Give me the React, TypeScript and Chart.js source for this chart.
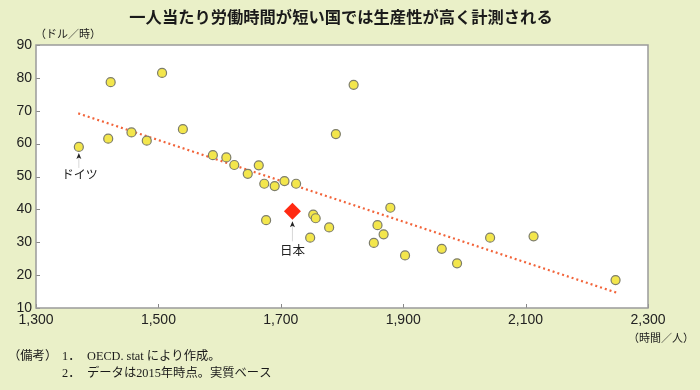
import React, { useEffect, useRef } from "react";
import { Chart, registerables } from "chart.js";

Chart.register(...registerables);

const titleText = "一人当たり労働時間が短い国では生産性が高く計測される";
const yUnit = "（ドル／時）";
const xUnit = "（時間／人）";
const notes = ["（備考）", "1．", "OECD. stat により作成。", "2．", "データは2015年時点。実質ベース"];

const hours = [1370, 1422, 1506, 1418, 1456, 1481, 1540, 1589, 1611, 1624, 1646, 1664, 1673, 1690, 1706, 1725, 1676, 1753, 1757, 1779, 1748, 1819, 1790, 1858, 1852, 1879, 1868, 1903, 1963, 1988, 2042, 2113, 2247];
const productivity = [59.0, 78.7, 81.5, 61.5, 63.4, 60.9, 64.4, 56.5, 55.8, 53.5, 50.8, 53.4, 47.8, 47.1, 48.6, 47.8, 36.7, 38.4, 37.3, 34.5, 31.4, 77.9, 62.9, 35.2, 29.8, 40.5, 32.4, 26.0, 28.0, 23.6, 31.4, 31.8, 18.5];
const japanHours = 1719;
const japanProductivity = 39.4;
const germanyIndex = 0;
const trendX = [1369, 2248];
const trendY = [69.2, 14.7];
const xTicks = [1300, 1500, 1700, 1900, 2100, 2300];
const yTicks = [10, 20, 30, 40, 50, 60, 70, 80, 90];

const CJK = "'Noto Sans CJK JP', sans-serif";

export default function App() {
  const ref = useRef<HTMLCanvasElement | null>(null);
  useEffect(() => {
    document.body.style.margin = "0";
    const canvas = ref.current!;
    const bgPlugin = {
      id: "bg",
      beforeDraw(chart: any) {
        const { ctx, chartArea: a } = chart;
        ctx.save();
        ctx.fillStyle = "#EAF0C8";
        ctx.fillRect(0, 0, chart.width, chart.height);
        ctx.fillStyle = "#FFFFFF";
        ctx.fillRect(a.left, a.top, a.right - a.left, a.bottom - a.top);
        ctx.restore();
      },
      afterDraw(chart: any) {
        const { ctx, chartArea: a, scales } = chart;
        ctx.save();
        // inward ticks
        ctx.strokeStyle = "#888";
        ctx.lineWidth = 1;
        ctx.beginPath();
        xTicks.forEach((v) => {
          const px = Math.round(scales.x.getPixelForValue(v)) + 0.5;
          ctx.moveTo(px, a.bottom);
          ctx.lineTo(px, a.bottom - 4);
        });
        yTicks.forEach((v) => {
          const py = Math.round(scales.y.getPixelForValue(v)) + 0.5;
          ctx.moveTo(a.left, py);
          ctx.lineTo(a.left + 4, py);
        });
        ctx.stroke();
        // border
        ctx.strokeStyle = "#9A9A9A";
        ctx.lineWidth = 1.5;
        ctx.strokeRect(a.left, a.top, a.right - a.left, a.bottom - a.top);

        // annotations
        const drawArrow = (x: number, tipY: number, endY: number) => {
          ctx.strokeStyle = "#D8D8D8";
          ctx.lineWidth = 1;
          ctx.beginPath();
          ctx.moveTo(x, tipY + 4);
          ctx.lineTo(x, endY);
          ctx.stroke();
          ctx.fillStyle = "#222";
          ctx.beginPath();
          ctx.moveTo(x, tipY);
          ctx.lineTo(x - 2.5, tipY + 6);
          ctx.lineTo(x, tipY + 4.5);
          ctx.lineTo(x + 2.5, tipY + 6);
          ctx.closePath();
          ctx.fill();
        };
        const gx = scales.x.getPixelForValue(hours[germanyIndex]);
        const gy = scales.y.getPixelForValue(productivity[germanyIndex]);
        drawArrow(gx, gy + 6, gy + 21);
        const jx = scales.x.getPixelForValue(japanHours);
        const jy = scales.y.getPixelForValue(japanProductivity);
        drawArrow(jx, jy + 10, jy + 30);
        ctx.fillStyle = "#222";
        ctx.textAlign = "center";
        ctx.textBaseline = "middle";
        ctx.font = `12px ${CJK}`;
        ctx.fillText("ドイツ", gx + 1, gy + 28);
        ctx.font = `12.5px ${CJK}`;
        ctx.fillText("日本", jx, jy + 39);

        // title
        ctx.font = `bold 16.3px ${CJK}`;
        ctx.fillStyle = "#1a1a1a";
        ctx.fillText(titleText, 341, 17);
        // units
        ctx.font = `11px ${CJK}`;
        ctx.textAlign = "left";
        ctx.fillText(yUnit, 35, 34);
        ctx.textAlign = "right";
        ctx.fillText(xUnit, 694, 338);
        // notes
        ctx.textAlign = "left";
        ctx.font = `12.3px 'Liberation Serif', ${CJK}`;
        ctx.fillText(notes[0], 8, 357);
        ctx.fillText(notes[1], 62, 357);
        ctx.fillText(notes[2], 87, 357);
        ctx.fillText(notes[3], 62, 374);
        ctx.fillText(notes[4], 87, 374);
        ctx.restore();
      },
    };

    const chart = new Chart(canvas, {
      type: "scatter",
      data: {
        datasets: [
          {
            label: "日本",
            data: [{ x: japanHours, y: japanProductivity }],
            pointStyle: "rectRot",
            pointRadius: 8.5,
            backgroundColor: "#FF2A12",
            borderColor: "#FF2A12",
            borderWidth: 0,
          },
          {
            label: "countries",
            data: hours.map((h, i) => ({ x: h, y: productivity[i] })),
            pointRadius: 4.5,
            backgroundColor: "#F3E64C",
            borderColor: "#7D7D6A",
            borderWidth: 1.2,
          },
          {
            label: "trend",
            type: "line",
            data: trendX.map((x, i) => ({ x, y: trendY[i] })),
            borderColor: "#F2643A",
            borderWidth: 2.2,
            borderDash: [2, 3],
            pointRadius: 0,
            fill: false,
          } as any,
        ],
      },
      options: {
        animation: false,
        responsive: false,
        devicePixelRatio: 1,
        layout: { padding: { left: 0, right: 52, top: 45, bottom: 0 } },
        plugins: { legend: { display: false }, tooltip: { enabled: false } },
        scales: {
          x: {
            type: "linear",
            min: 1300,
            max: 2300,
            afterBuildTicks: (s: any) => {
              s.ticks = xTicks.map((v) => ({ value: v }));
            },
            afterFit: (s: any) => {
              s.height = 82;
            },
            grid: { display: false, drawTicks: false },
            border: { display: false },
            ticks: {
              autoSkip: false,
              maxRotation: 0,
              padding: 4,
              color: "#222",
              font: { family: "'Liberation Sans', Arial, sans-serif", size: 14 },
              callback: (v: any) => Number(v).toLocaleString("en-US"),
            },
          },
          y: {
            type: "linear",
            min: 10,
            max: 90,
            afterBuildTicks: (s: any) => {
              s.ticks = yTicks.map((v) => ({ value: v }));
            },
            afterFit: (s: any) => {
              s.width = 36;
            },
            grid: { display: false, drawTicks: false },
            border: { display: false },
            ticks: {
              padding: 4,
              color: "#222",
              font: { family: "'Liberation Sans', Arial, sans-serif", size: 14 },
            },
          },
        },
      },
      plugins: [bgPlugin],
    });
    return () => chart.destroy();
  }, []);
  return (
    <div style={{ position: "absolute", left: 0, top: 0, width: 700, height: 390 }}>
      <canvas ref={ref} width={700} height={390} style={{ width: 700, height: 390, display: "block" }} />
    </div>
  );
}
